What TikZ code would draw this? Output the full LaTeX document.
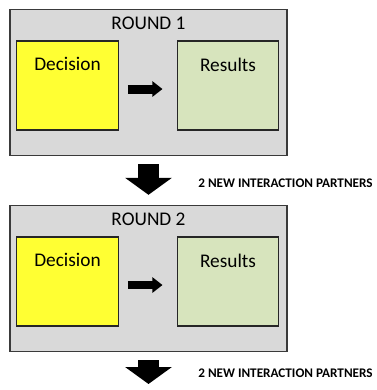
\documentclass[tikz,border=0pt]{standalone}
\usepackage{fontspec}
\setmainfont{Carlito}
\usepackage{tikz}
\usetikzlibrary{arrows.meta}
\definecolor{roundgray}{HTML}{D9D9D9}
\definecolor{decyellow}{HTML}{FFFF33}
\definecolor{resgreen}{HTML}{D7E4BD}
\definecolor{edgegray}{HTML}{3A3A3A}
\tikzset{
  roundbox/.style={draw=edgegray,line width=0.8pt,fill=roundgray,minimum width=5.54cm,minimum height=2.92cm,inner sep=0pt},
  stepbox/.style={draw=black!85,line width=0.8pt,minimum width=2.03cm,minimum height=1.78cm,inner sep=0pt},
  boxtext/.style={font=\fontsize{11}{13}\selectfont,inner sep=0pt,anchor=north},
  flow/.style={line width=5.1pt,-{Triangle[width=8.5pt,length=5.7pt]},shorten <=5.1pt,shorten >=8pt},
  bigflow/.style={line width=12.5pt,-{Triangle[width=26pt,length=9.6pt]},shorten <=4.5pt,shorten >=5.7pt},
  partners/.style={font=\fontsize{7.5}{9}\bfseries\selectfont,inner sep=0pt,anchor=west}
}

\begin{document}
\begin{tikzpicture}[x=0.02cm,y=-0.02cm,line cap=butt,line join=miter]
\useasboundingbox (0,0) rectangle (377,390);
\clip (0,0) rectangle (377,390);
\foreach \i/\y/\py in {1/0/183,2/196/373.5}{
  \node[roundbox,label={[boxtext,yshift=-0.16cm]north:ROUND \i}] (r\i) at (148.5,82.5+\y) {};
  \node[stepbox,fill=decyellow,label={[boxtext,yshift=-0.34cm]north:Decision}] (dec\i) at (67.5,85.5+\y) {};
  \node[stepbox,fill=resgreen,label={[boxtext,yshift=-0.34cm]north:Results}] (res\i) at (228,85.5+\y) {};
  \draw[flow] ([yshift=-2pt]dec\i.east) -- ([yshift=-2pt]res\i.west);
  \node[partners] (p\i) at (198,\py) {2 NEW INTERACTION PARTNERS};
}
\coordinate (end) at (148.5,394);
\draw[bigflow] (r1.south) -- (r2.north);
\draw[bigflow] (r2.south) -- (end);
\end{tikzpicture}
\end{document}
